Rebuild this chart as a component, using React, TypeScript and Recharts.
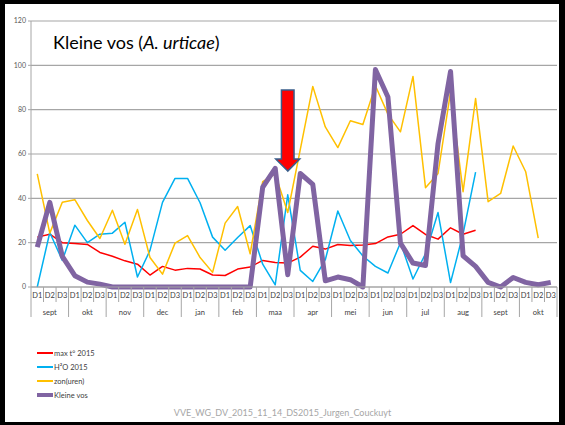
import { LineChart, Line, XAxis, YAxis, CartesianGrid, ReferenceDot } from "recharts"

const dekades = ["D1", "D2", "D3"]
const months = ["sept", "okt", "nov", "dec", "jan", "feb", "maa", "apr", "mei", "jun", "jul", "aug", "sept", "okt"]

const maxTemp = [
  22.5, 23.8, 20, 19.6, 19.2, 15.6, 13.9, 11.8, 10.3, 5.4, 9.3, 7.6, 8.4, 8.1, 5.4, 5.2, 8.1, 9.0,
  12.0, 11.1, 10.8, 13.5, 18.4, 17.1, 19.2, 18.7, 18.9, 19.6, 22.6, 23.8, 27.7, 23.7, 21.6, 26.7, 23.8, 25.6,
  null, null, null, null, null, null,
]
const water = [
  0, 24.6, 12, 27.9, 20, 23.8, 24.3, 29.2, 4.5, 16.5, 38.2, 49, 49, 38, 22.5, 16.6, 22.3, 27.7,
  10.3, 1, 41.6, 7.5, 2.5, 12.3, 34.3, 21, 14, 9.3, 6.3, 20, 3.6, 15, 33.6, 2, 24, 51.8,
  null, null, null, null, null, null,
]
const sunHours = [
  51, 24.3, 38.2, 39.4, 30, 21.9, 34.6, 19.3, 35, 13.3, 5.8, 19.8, 23.2, 13.3, 6.6, 28.8, 36.3, 15,
  47.5, 51, 33.6, 62, 90.5, 72.2, 62.9, 75, 73.3, 90.8, 78, 70, 95, 44.8, 51.2, 88, 43, 85,
  38.5, 42.2, 63.6, 52, 22, null,
]
const kleineVos = [
  18, 38.2, 13.8, 5.1, 2.2, 1.3, 0, 0, 0, 0, 0, 0, 0, 0, 0, 0, 0, 0,
  45, 53.5, 5.5, 51.2, 46.3, 2.8, 4.5, 3.3, 0, 98.1, 85.7, 19.8, 10.8, 9.7, 64.7, 97.2, 14.1, 9.3,
  2.1, 0, 4.3, 2.1, 1, 2.1,
]
const yTicks = [0, 20, 40, 60, 80, 100, 120]

const series = [
  { key: "maxTemp", name: "max t° 2015", color: "#FF0000", width: 1.5 },
  { key: "water", name: "H²O 2015", color: "#00B0F0", width: 1.5 },
  { key: "sun", name: "zon(uren)", color: "#FFC000", width: 1.5 },
  { key: "vos", name: "Kleine vos", color: "#8064A2", width: 5 },
]

const data = months.flatMap((month, mi) =>
  dekades.map((dekade, di) => {
    const i = mi * 3 + di
    return {
      idx: i,
      dekade,
      month,
      maxTemp: maxTemp[i],
      water: water[i],
      sun: sunHours[i],
      vos: kleineVos[i],
    }
  })
)

const W = 565
const H = 425
const MARGIN = { top: 21, right: 8, left: 6, bottom: 102 }
const Y_AXIS_W = 25
const PLOT_W = W - MARGIN.left - MARGIN.right - Y_AXIS_W
const BAND = PLOT_W / data.length
const LINE_GREY = "#A6A6A6"
const TEXT_GREY = "#404040"
const FONT = "Lato, 'Open Sans', sans-serif"

function DekadeTick({ x, y, payload }: any) {
  const i = payload.value as number
  return (
    <g>
      {i === 0 && <line x1={x - BAND / 2} x2={x - BAND / 2} y1={y} y2={y + 15} stroke={LINE_GREY} />}
      <line x1={x + BAND / 2} x2={x + BAND / 2} y1={y} y2={y + 15} stroke={LINE_GREY} />
      <text x={x} y={y + 11} textAnchor="middle" fontSize={7.5} fill={TEXT_GREY} fontFamily={FONT}>
        {dekades[i % 3]}
      </text>
    </g>
  )
}

function MonthTick({ x, y, payload }: any) {
  const i = payload.value as number
  return (
    <g>
      {i === 0 && <line x1={x - BAND / 2} x2={x - BAND / 2} y1={y} y2={y + 15} stroke={LINE_GREY} />}
      {i % 3 === 2 && <line x1={x + BAND / 2} x2={x + BAND / 2} y1={y} y2={y + 15} stroke={LINE_GREY} />}
      {i % 3 === 1 && (
        <text x={x} y={y + 13} textAnchor="middle" fontSize={7.5} fill={TEXT_GREY} fontFamily={FONT}>
          {data[i].month}
        </text>
      )}
    </g>
  )
}

function Arrow({ cx, cy }: any) {
  const pts = [
    [cx, cy],
    [cx - 12, cy - 12],
    [cx - 6.3, cy - 12],
    [cx - 6.3, cy - 81],
    [cx + 6.3, cy - 81],
    [cx + 6.3, cy - 12],
    [cx + 12, cy - 12],
  ]
  return <polygon points={pts.map((p) => p.join(",")).join(" ")} fill="#FF0000" stroke="#385D8A" strokeWidth={1.5} />
}

export default function App() {
  return (
    <div
      style={{
        position: "absolute",
        left: 0,
        top: 0,
        width: W,
        height: H,
        background: "#fff",
        fontFamily: FONT,
      }}
    >
      <LineChart width={W} height={H} data={data} margin={MARGIN}>
        <CartesianGrid vertical={false} stroke={LINE_GREY} strokeWidth={1.2} />
        <XAxis
          xAxisId="d"
          dataKey="idx"
          type="category"
          scale="band"
          interval={0}
          height={15}
          tickSize={0}
          tickMargin={0}
          tickLine={false}
          axisLine={{ stroke: LINE_GREY }}
          tick={<DekadeTick />}
        />
        <XAxis
          xAxisId="m"
          dataKey="idx"
          type="category"
          scale="band"
          interval={0}
          height={21}
          tickSize={0}
          tickMargin={0}
          tickLine={false}
          axisLine={false}
          tick={<MonthTick />}
        />
        <YAxis
          width={Y_AXIS_W}
          domain={[0, 120]}
          ticks={yTicks}
          interval={0}
          tickSize={3}
          tickMargin={2}
          axisLine={{ stroke: LINE_GREY }}
          tickLine={{ stroke: LINE_GREY }}
          tick={{ fontSize: 7, fill: "#595959", fontFamily: FONT }}
        />
        {series.map((s) => (
          <Line
            key={s.key}
            xAxisId="d"
            dataKey={s.key}
            name={s.name}
            stroke={s.color}
            strokeWidth={s.width}
            strokeLinejoin="round"
            dot={false}
            activeDot={false}
            isAnimationActive={false}
          />
        ))}
        <ReferenceDot xAxisId="d" x={20} y={52.3} shape={<Arrow />} ifOverflow="visible" />
      </LineChart>

      <div
        style={{
          position: "absolute",
          left: 53,
          top: 31,
          fontSize: 18,
          color: "#000",
        }}
      >
        Kleine vos (<i>A. urticae</i>)
      </div>

      <div style={{ position: "absolute", left: 37, top: 346 }}>
        {series.map((s) => (
          <div key={s.key} style={{ display: "flex", alignItems: "center", height: 14 }}>
            <div style={{ width: 16, height: s.width > 2 ? 4 : 2, background: s.color }} />
            <span style={{ fontSize: 7.5, color: TEXT_GREY, marginLeft: 1 }}>{s.name}</span>
          </div>
        ))}
      </div>

      <div
        style={{
          position: "absolute",
          left: 0,
          width: W,
          top: 407,
          textAlign: "center",
          fontSize: 9,
          color: "#A6A6A6",
        }}
      >
        VVE_WG_DV_2015_11_14_DS2015_Jurgen_Couckuyt
      </div>

      <div
        style={{
          position: "absolute",
          left: 0,
          top: 0,
          width: W,
          height: H,
          boxSizing: "border-box",
          borderStyle: "solid",
          borderColor: "#000",
          borderWidth: "4px 6px 3px 5px",
          pointerEvents: "none",
        }}
      />
    </div>
  )
}
